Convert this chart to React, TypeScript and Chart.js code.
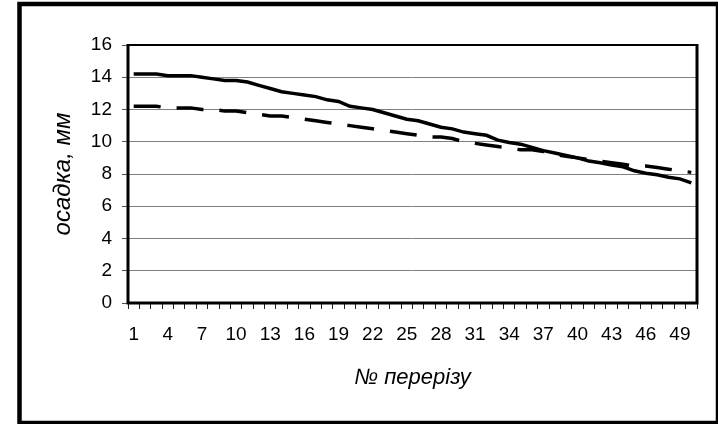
import React, { useEffect, useRef } from "react";
import { Chart, registerables } from "chart.js";

Chart.register(...registerables);

const categories = [
  "1", "2", "3", "4", "5", "6", "7", "8", "9", "10",
  "11", "12", "13", "14", "15", "16", "17", "18", "19", "20",
  "21", "22", "23", "24", "25", "26", "27", "28", "29", "30",
  "31", "32", "33", "34", "35", "36", "37", "38", "39", "40",
  "41", "42", "43", "44", "45", "46", "47", "48", "49", "50",
];

const shownTickLabels = ["1", "4", "7", "10", "13", "16", "19", "22", "25", "28", "31", "34", "37", "40", "43", "46", "49"];

const solidSeries = [
  14.2, 14.2, 14.2, 14.1, 14.1, 14.1, 14.0, 13.9, 13.8, 13.8,
  13.7, 13.5, 13.3, 13.1, 13.0, 12.9, 12.8, 12.6, 12.5, 12.2,
  12.1, 12.0, 11.8, 11.6, 11.4, 11.3, 11.1, 10.9, 10.8, 10.6,
  10.5, 10.4, 10.1, 9.95, 9.85, 9.65, 9.45, 9.3, 9.15, 9.0,
  8.8, 8.7, 8.55, 8.45, 8.2, 8.05, 7.95, 7.8, 7.7, 7.45,
];

const dashedSeries = [
  12.2, 12.2, 12.2, 12.1, 12.1, 12.1, 12.0, 12.0, 11.9, 11.9,
  11.8, 11.7, 11.6, 11.6, 11.5, 11.4, 11.3, 11.2, 11.1, 11.0,
  10.9, 10.8, 10.7, 10.6, 10.5, 10.4, 10.3, 10.3, 10.2, 10.0,
  9.9, 9.8, 9.7, 9.6, 9.5, 9.5, 9.4, 9.2, 9.1, 9.0,
  8.9, 8.8, 8.7, 8.6, 8.5, 8.5, 8.4, 8.3, 8.2, 8.1,
];

const yTitle = "осадка, мм";
const xTitle = "№ перерізу";

const FONT = "'Liberation Sans', Arial, sans-serif";

const framePlugin = {
  id: "framePlugin",
  afterDraw(chart: any) {
    const { ctx, chartArea } = chart;
    const { left, right, top, bottom } = chartArea;
    ctx.save();
    ctx.strokeStyle = "#000";
    ctx.lineWidth = 2;
    ctx.beginPath();
    ctx.moveTo(left, top);
    ctx.lineTo(right, top);
    ctx.stroke();
    ctx.lineWidth = 3;
    ctx.beginPath();
    ctx.moveTo(left, top - 1);
    ctx.lineTo(left, bottom);
    ctx.lineTo(right, bottom);
    ctx.lineTo(right, top - 1);
    ctx.stroke();
    ctx.lineWidth = 4.5;
    ctx.strokeRect(19.5, 4, 698.5, 419);
    ctx.restore();
  },
};

export default function App() {
  const canvasRef = useRef<HTMLCanvasElement | null>(null);

  useEffect(() => {
    if (!canvasRef.current) return;
    const chart = new Chart(canvasRef.current, {
      type: "line",
      data: {
        labels: categories,
        datasets: [
          {
            data: solidSeries,
            borderColor: "#000",
            borderWidth: 3.5,
            pointRadius: 0,
            tension: 0,
            fill: false,
          },
          {
            data: dashedSeries,
            borderColor: "#000",
            borderWidth: 3.5,
            borderDash: [27, 16],
            pointRadius: 0,
            tension: 0,
            fill: false,
          },
        ],
      },
      options: {
        animation: false,
        responsive: true,
        maintainAspectRatio: false,
        layout: { padding: { left: 0, top: 45, right: 21, bottom: 0 } },
        plugins: {
          legend: { display: false },
          tooltip: { enabled: false },
        },
        scales: {
          x: {
            type: "category",
            offset: true,
            grid: {
              offset: true,
              drawOnChartArea: false,
              drawTicks: true,
              tickLength: 6,
              tickColor: "#222",
              lineWidth: 1,
            },
            border: { display: false },
            ticks: {
              autoSkip: false,
              maxRotation: 0,
              minRotation: 0,
              padding: 14,
              color: "#000",
              font: { family: FONT, size: 19, lineHeight: 1.2 },
              callback: function (this: any, value: any) {
                const lab = this.getLabelForValue(value);
                return shownTickLabels.includes(lab) ? lab : "";
              },
            },
            title: {
              display: true,
              text: xTitle,
              color: "#000",
              font: { family: FONT, size: 22, style: "italic", lineHeight: 1.2 },
              padding: { top: 0, bottom: 33 },
            },
            afterFit: (s: any) => {
              s.height = 121;
            },
          },
          y: {
            min: 0,
            max: 16,
            ticks: {
              stepSize: 2,
              padding: 10,
              color: "#000",
              font: { family: FONT, size: 19, lineHeight: 1.2 },
            },
            grid: {
              color: "#808080",
              lineWidth: 1,
              drawTicks: true,
              tickLength: 6,
              tickColor: "#555",
            },
            border: { display: false },
            title: {
              display: true,
              text: yTitle,
              color: "#000",
              font: { family: FONT, size: 24, style: "italic", lineHeight: 1.2 },
              padding: { top: 49, bottom: 0 },
            },
            afterFit: (s: any) => {
              s.width = 128;
            },
          },
        },
      },
      plugins: [framePlugin],
    });
    return () => chart.destroy();
  }, []);

  return (
    <div style={{ position: "absolute", left: 0, top: 0, width: 718, height: 424, background: "#fff" }}>
      <canvas ref={canvasRef} />
    </div>
  );
}
